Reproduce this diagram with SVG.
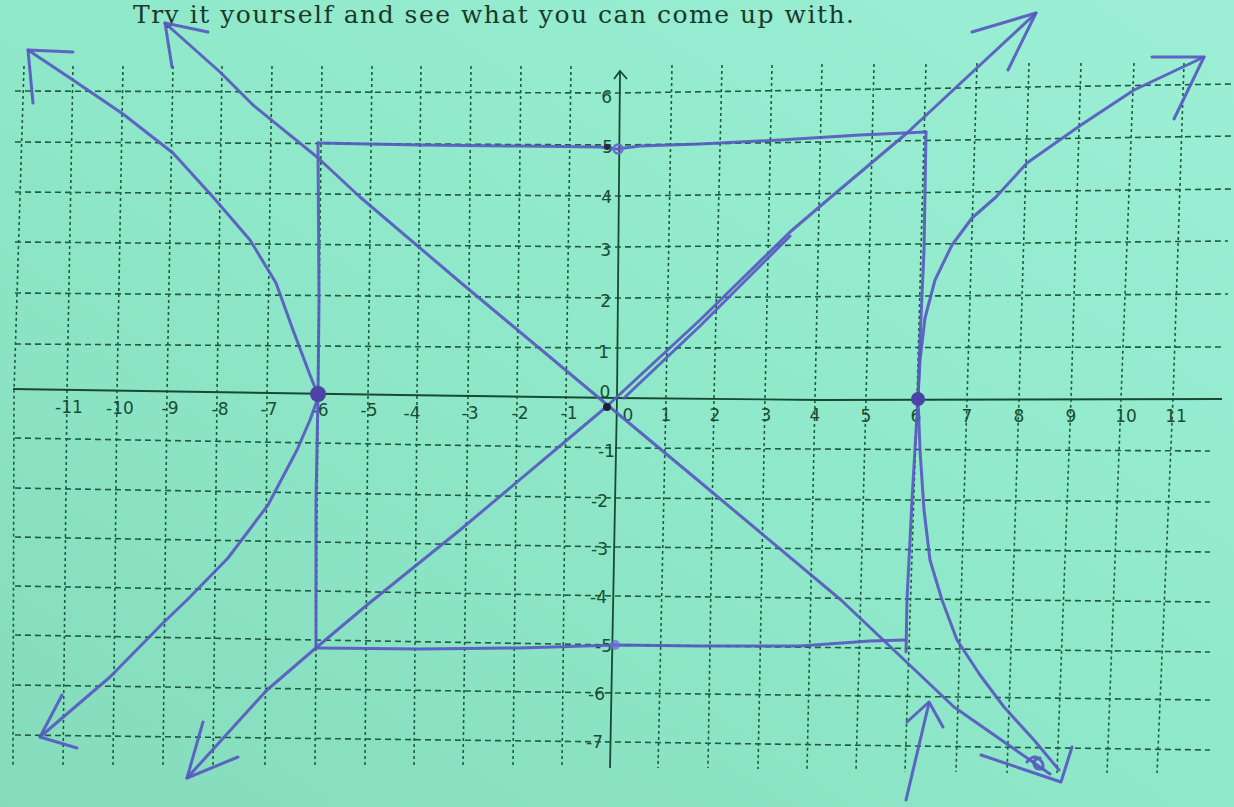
<svg xmlns="http://www.w3.org/2000/svg" width="1234" height="807" viewBox="0 0 1234 807">
<defs>
<linearGradient id="bg" x1="1" y1="0" x2="0" y2="1">
<stop offset="0" stop-color="#9cefd5"/>
<stop offset="0.5" stop-color="#8fe8c9"/>
<stop offset="1" stop-color="#84dcbd"/>
</linearGradient>
<style>
.hg{fill:none;stroke:#1f5d3f;stroke-width:1.6;stroke-dasharray:6 4}
.vg{fill:none;stroke:#1f5d3f;stroke-width:1.6;stroke-dasharray:3 3}
.ax{fill:none;stroke:#174a31;stroke-width:1.8}
.lb{font-family:"DejaVu Sans",sans-serif;font-size:17px;fill:#1a4d33}
.xl{text-anchor:middle}
.yl{text-anchor:end}
.pen{fill:none;stroke:#5859c0;stroke-width:3;stroke-linecap:round;stroke-linejoin:round;opacity:0.92}
.dot{fill:#4d42a6}
</style>
</defs>
<rect width="1234" height="807" fill="url(#bg)"/>
<text x="133" y="23" font-family="'DejaVu Serif','Liberation Serif',serif" font-size="25" fill="#193a2b" textLength="721" lengthAdjust="spacing">Try it yourself and see what you can come up with.</text>

<g id="grid">
<polyline class="hg" points="15,91 617,93 1234,84"/>
<polyline class="hg" points="15,142 617,145 1234,136"/>
<polyline class="hg" points="15,192 617,196 1234,189"/>
<polyline class="hg" points="15,242 617,247 1228,241"/>
<polyline class="hg" points="15,293 617,298 1228,294"/>
<polyline class="hg" points="15,344 617,348 1222,347"/>
<polyline class="hg" points="15,438 617,448 1210,451"/>
<polyline class="hg" points="15,488 617,498 1210,502"/>
<polyline class="hg" points="15,537 617,547 1210,552"/>
<polyline class="hg" points="15,586 617,596 1210,602"/>
<polyline class="hg" points="15,635 617,645 1210,652"/>
<polyline class="hg" points="15,685 617,693 1210,700"/>
<polyline class="hg" points="15,735 617,742 1210,750"/>
<polyline class="vg" points="24,66 14,392 13,765"/>
<polyline class="vg" points="73,66 67,392 63,765"/>
<polyline class="vg" points="123,66 117,393 113,765"/>
<polyline class="vg" points="173,66 167,393 163,765"/>
<polyline class="vg" points="222,66 217,394 213,765"/>
<polyline class="vg" points="272,66 267,394 265,765"/>
<polyline class="vg" points="322,66 318,394 315,765"/>
<polyline class="vg" points="372,66 368,395 365,765"/>
<polyline class="vg" points="421,66 417,395 414,766"/>
<polyline class="vg" points="471,66 468,396 463,766"/>
<polyline class="vg" points="521,66 517,396 513,766"/>
<polyline class="vg" points="571,66 566,397 562,766"/>
<polyline class="vg" points="672,65 666,398 658,768"/>
<polyline class="vg" points="722,65 714,398 708,768"/>
<polyline class="vg" points="772,65 765,399 758,769"/>
<polyline class="vg" points="822,64 815,399 807,770"/>
<polyline class="vg" points="874,64 866,399 856,771"/>
<polyline class="vg" points="926,64 917,399 905,772"/>
<polyline class="vg" points="977,63 967,399 956,772"/>
<polyline class="vg" points="1029,63 1019,399 1007,773"/>
<polyline class="vg" points="1081,63 1071,399 1057,773"/>
<polyline class="vg" points="1134,63 1121,399 1107,773"/>
<polyline class="vg" points="1184,63 1173,399 1157,773"/>
</g>

<g id="axes">
<polyline class="ax" points="13,389 400,395 617,398 820,400 1222,399"/>
<polyline class="ax" points="620,72 617,398 610,768"/>
<polyline class="ax" points="614,79 620,71 627,79"/>
</g>

<g id="labels" class="lb">
<g class="xl">
<text x="69" y="413">-11</text>
<text x="120" y="414">-10</text>
<text x="170" y="414">-9</text>
<text x="220" y="415">-8</text>
<text x="269" y="415">-7</text>
<text x="320" y="416">-6</text>
<text x="369" y="416">-5</text>
<text x="412" y="419">-4</text>
<text x="470" y="419">-3</text>
<text x="520" y="419">-2</text>
<text x="569" y="419">-1</text>
<text x="628" y="421">0</text>
<text x="666" y="421">1</text>
<text x="715" y="421">2</text>
<text x="766" y="421">3</text>
<text x="815" y="421">4</text>
<text x="866" y="422">5</text>
<text x="916" y="422">6</text>
<text x="967" y="422">7</text>
<text x="1019" y="422">8</text>
<text x="1071" y="422">9</text>
<text x="1126" y="422">10</text>
<text x="1176" y="422">11</text>
<text x="605" y="398">0</text>
</g>
<g class="yl">
<text x="612" y="103">6</text>
<text x="613" y="153">5</text>
<text x="612" y="203">4</text>
<text x="611" y="256">3</text>
<text x="611" y="307">2</text>
<text x="609" y="358">1</text>
<text x="615" y="457">-1</text>
<text x="608" y="507">-2</text>
<text x="608" y="555">-3</text>
<text x="607" y="603">-4</text>
<text x="612" y="652">-5</text>
<text x="605" y="700">-6</text>
<text x="603" y="748">-7</text>
</g>
</g>

<g id="rectangle">
<path class="pen" d="M318,143 L420,145 L520,146 L600,147 L617,149 L640,146 L700,144 L780,140 L860,135 L926,132"/>
<path class="pen" d="M926,132 L924,250 L920,340 L918,398 L912,500 L907,600 L906,652"/>
<path class="pen" d="M318,648 L420,649 L520,648 L617,645 L700,646 L800,646 L870,641 L905,640"/>
<path class="pen" d="M318,143 L319,300 L318,395 L316,500 L316,648"/>
</g>

<g id="asymptotes">
<path class="pen" d="M165,23 L220,72 L253,105 L317,157 L360,197 L460,282 L605,403 L700,482 L841,600 L954,707 L1050,774"/>
<path class="pen" d="M187,778 L267,690 L317,647 L367,605 L460,530 L605,408 L700,320 L790,232 L831,197 L907,133 L1036,13"/>
<path class="pen" d="M624,398 L700,326 L790,236"/>
</g>

<g id="hyperbola">
<path class="pen" d="M28,50 L73,80 L123,114 L173,153 L213,197 L250,240 L276,283 L293,330 L310,375 L318,395"/>
<path class="pen" d="M318,398 L310,420 L297,450 L268,505 L228,558 L187,600 L163,623 L110,677 L40,737"/>
<path class="pen" d="M918,398 L920,360 L925,318 L935,280 L952,245 L972,218 L996,197 L1027,163 L1081,125 L1134,90 L1204,57"/>
<path class="pen" d="M918,398 L920,450 L924,510 L930,560 L942,600 L957,640 L980,675 L1004,707 L1034,740 L1059,770"/>
</g>

<g id="arrowheads">
<path class="pen" d="M73,52 L28,50 L33,103"/>
<path class="pen" d="M208,32 L165,23 L172,67"/>
<path class="pen" d="M972,32 L1036,13 L1008,70"/>
<path class="pen" d="M1152,57 L1204,57 L1174,119"/>
<path class="pen" d="M62,695 L40,737 L77,748"/>
<path class="pen" d="M203,722 L187,778 L238,757"/>
<path class="pen" d="M981,755 L1061,782 L1072,747"/>
<path class="pen" d="M1027,762 Q1035,752 1042,762 Q1046,772 1036,768 Q1030,760 1040,758"/>
<path class="pen" d="M906,800 L929,703"/>
<path class="pen" d="M907,722 L929,702 L943,727"/>
</g>

<g id="points">
<circle class="dot" cx="318" cy="394" r="8"/>
<circle class="dot" cx="918" cy="399" r="7"/>
<circle cx="607" cy="407" r="4" fill="#1f1f3a"/>
<circle cx="607" cy="147" r="3" fill="#2a2a40"/>
<circle cx="618" cy="149" r="4.5" fill="none" stroke="#6a70c8" stroke-width="2.5"/>
<circle cx="615" cy="645" r="5" fill="#6d6fd0" opacity="0.75"/>
</g>
</svg>
